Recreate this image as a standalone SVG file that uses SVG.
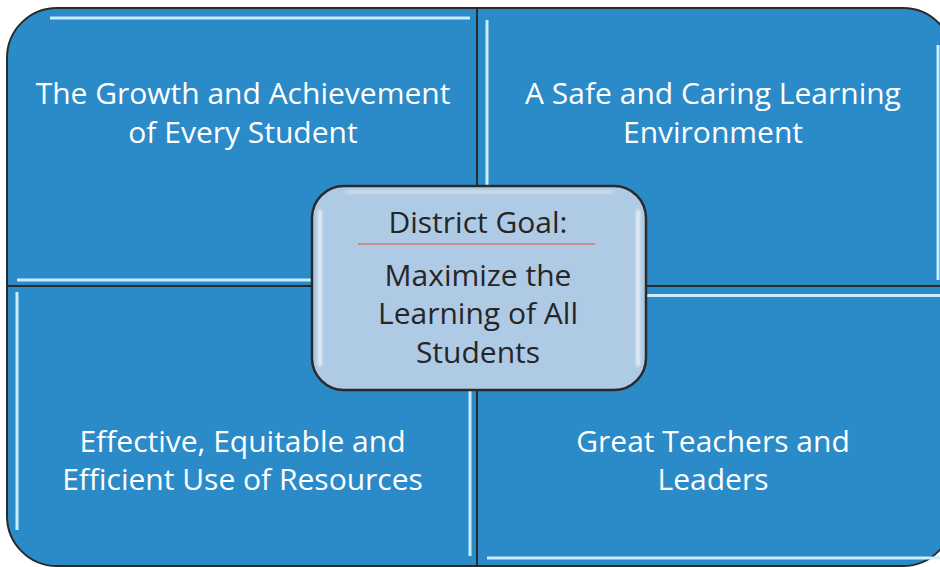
<svg xmlns="http://www.w3.org/2000/svg" width="940" height="567" viewBox="0 0 940 567">
  <defs>
    <filter id="soft" filterUnits="userSpaceOnUse" x="0" y="0" width="940" height="567">
      <feGaussianBlur stdDeviation="0.7"/>
    </filter>
    <filter id="glow" filterUnits="userSpaceOnUse" x="0" y="0" width="940" height="567">
      <feGaussianBlur stdDeviation="1.5"/>
    </filter>
  </defs>
  <style>
    .quad { fill: #2b8bc9; stroke: #2a2a2a; stroke-width: 2; }
    .hl { stroke: #c9ecff; stroke-width: 3; fill: none; filter: url(#soft); }
    .qtext { font-family: "Open Sans", "Noto Sans", sans-serif; font-size: 30px; fill: #ffffff; text-anchor: middle; }
    .ctext { font-family: "Open Sans", "Noto Sans", sans-serif; font-size: 30px; fill: #262626; text-anchor: middle; }
  </style>
  <rect width="940" height="567" fill="#ffffff"/>

  <g id="quad-growth">
    <path class="quad" d="M7,286 V58 A50,50 0 0 1 57,8 H477 V286 Z"/>
    <path class="hl" d="M50,18 H470"/>
    <path class="hl" d="M17,280 H477"/>
    <text class="qtext" x="243" y="104">The Growth and Achievement</text>
    <text class="qtext" x="243" y="142.5">of Every Student</text>
  </g>

  <g id="quad-safe">
    <path class="quad" d="M477,8 H903 A50,50 0 0 1 953,58 V286 H477 Z"/>
    <path class="hl" d="M487,20 V286"/>
    <path class="hl" d="M938,45 V280"/>
    <text class="qtext" x="713" y="104">A Safe and Caring Learning</text>
    <text class="qtext" x="713" y="142.5">Environment</text>
  </g>

  <g id="quad-resources">
    <path class="quad" d="M7,286 H477 V566 H57 A50,50 0 0 1 7,516 Z"/>
    <path class="hl" d="M17,292 V530"/>
    <path class="hl" d="M470,286 V556"/>
    <text class="qtext" x="242.5" y="452">Effective, Equitable and</text>
    <text class="qtext" x="242.5" y="490">Efficient Use of Resources</text>
  </g>

  <g id="quad-teachers">
    <path class="quad" d="M477,286 H953 V516 A50,50 0 0 1 903,566 H477 Z"/>
    <path class="hl" d="M480,295.5 H940"/>
    <path class="hl" d="M487,558 H940"/>
    <text class="qtext" x="713" y="452">Great Teachers and</text>
    <text class="qtext" x="713" y="490">Leaders</text>
  </g>

  <g id="district-goal">
    <rect x="312" y="186" width="334" height="204" rx="32" ry="32" fill="#afcae4" stroke="#2a2a2a" stroke-width="2.5"/>
    <path d="M320,210 V366" stroke="#ffffff" stroke-width="3" fill="none" filter="url(#glow)" opacity="0.9"/>
    <path d="M638,210 V366" stroke="#ffffff" stroke-width="3" fill="none" filter="url(#glow)" opacity="0.9"/>
    <path d="M345,192 H613" stroke="#ffffff" stroke-width="2" fill="none" filter="url(#glow)" opacity="0.6"/>
    <line x1="358" y1="244" x2="595" y2="244" stroke="#d0756d" stroke-width="1.5"/>
    <text class="ctext" x="478" y="233">District Goal:</text>
    <text class="ctext" x="478" y="286">Maximize the</text>
    <text class="ctext" x="478" y="324">Learning of All</text>
    <text class="ctext" x="478" y="362.5">Students</text>
  </g>
</svg>
